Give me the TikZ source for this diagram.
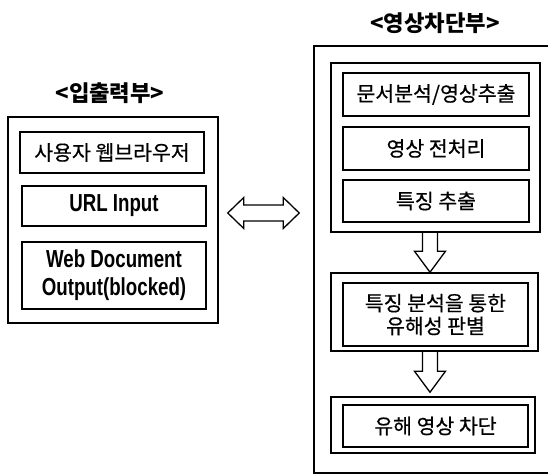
\documentclass[tikz,border=0pt]{standalone}
\usepackage{fontspec}
\setmainfont{Noto Sans CJK KR}
\newfontfamily\boxfont[FakeBold=0.5]{Noto Sans CJK KR}
\newfontfamily\latinbold[FakeStretch=0.76]{Liberation Sans}
\usetikzlibrary{calc}

\begin{document}
\begin{tikzpicture}[
    x=0.03cm, y=-0.03cm,
    frame/.style={rectangle, draw, line width=1.3pt, inner sep=0pt},
    box/.style={rectangle, draw, line width=1.1pt, inner sep=0pt, align=center, font=\boxfont\fontsize{17.5}{19.5}\selectfont},
    ebox/.style={box, font=\latinbold\bfseries\fontsize{21}{24}\selectfont},
    title/.style={font=\bfseries\fontsize{19}{20}\selectfont},
    blkarr/.style={draw, line width=1.1pt, to path={
        ($(\tikztostart)+(-7.5,0)$) -- ($(\tikztotarget)+(-7.5,-21)$) -- ($(\tikztotarget)+(-15.5,-21)$)
        -- (\tikztotarget) -- ($(\tikztotarget)+(15.5,-21)$) -- ($(\tikztotarget)+(7.5,-21)$) -- ($(\tikztostart)+(7.5,0)$)}},
    dblarr/.style={draw, line width=1.1pt, to path={
        ($(\tikztostart)+(16,-8)$) -- ($(\tikztotarget)+(-16,-8)$) -- ($(\tikztotarget)+(-16,-15.5)$)
        -- (\tikztotarget) -- ($(\tikztotarget)+(-16,15.5)$) -- ($(\tikztotarget)+(-16,8)$)
        -- ($(\tikztostart)+(16,8)$) -- ($(\tikztostart)+(16,15.5)$) -- (\tikztostart)
        -- ($(\tikztostart)+(16,-15.5)$) -- cycle}}
]
\useasboundingbox (0,0) rectangle (548,474);

% input / output side
\node[title] (iot) at (110,93) {<입출력부>};
\node[frame, minimum width=6.3cm, minimum height=6.18cm] (io) at (113,220) {};
\node[box, minimum width=5.52cm, minimum height=1.23cm] (brw) at (112,152.5) {사용자 웹브라우저};
\node[ebox, minimum width=5.52cm, minimum height=1.2cm] (url) at (114,206) {URL Input};
\node[ebox, minimum width=5.52cm, minimum height=2.01cm] (web) at (114,275.5) {Web Document\\Output(blocked)};

% image blocking side, its frame runs off to the right
\node[title] (cutt) at (435,23) {<영상차단부>};
\node[frame, draw=none, minimum width=9cm, minimum height=12.75cm] (blk) at (465,259.5) {};
\draw[line width=1.3pt] (blk.north east) -- (blk.north west) -- (blk.south west) -- (blk.south east);
\node[frame, minimum width=6.27cm, minimum height=5.07cm] (grp) at (435.5,147.5) {};
\node[box, minimum width=5.58cm, minimum height=1.29cm] (ext) at (436,94.5) {문서분석/영상추출};
\node[box, minimum width=5.58cm, minimum height=1.29cm] (pre) at (436,148.5) {영상 전처리};
\node[box, minimum width=5.58cm, minimum height=1.26cm] (feat) at (436,201) {특징 추출};
\node[frame, minimum width=6.21cm, minimum height=2.34cm] (judgeo) at (434.5,312) {};
\node[box, minimum width=5.55cm, minimum height=1.89cm] (judge) at (435.5,314.5) {특징 분석을 통한\\유해성 판별};
\node[frame, minimum width=6.12cm, minimum height=1.68cm] (cuto) at (433,425) {};
\node[box, minimum width=5.55cm, minimum height=1.26cm] (cut) at (435.5,426) {유해 영상 차단};

\coordinate (ax) at (430,0);
\coordinate (lk) at (0,213);
\draw[blkarr] (grp.south -| ax) to (judgeo.north -| ax);
\draw[blkarr] (judgeo.south -| ax) to ($(cuto.north -| ax)+(0,-4)$);
\draw[dblarr] ($(io.east |- lk)+(9,0)$) to ($(blk.west |- lk)+(-15,0)$);
\end{tikzpicture}
\end{document}
